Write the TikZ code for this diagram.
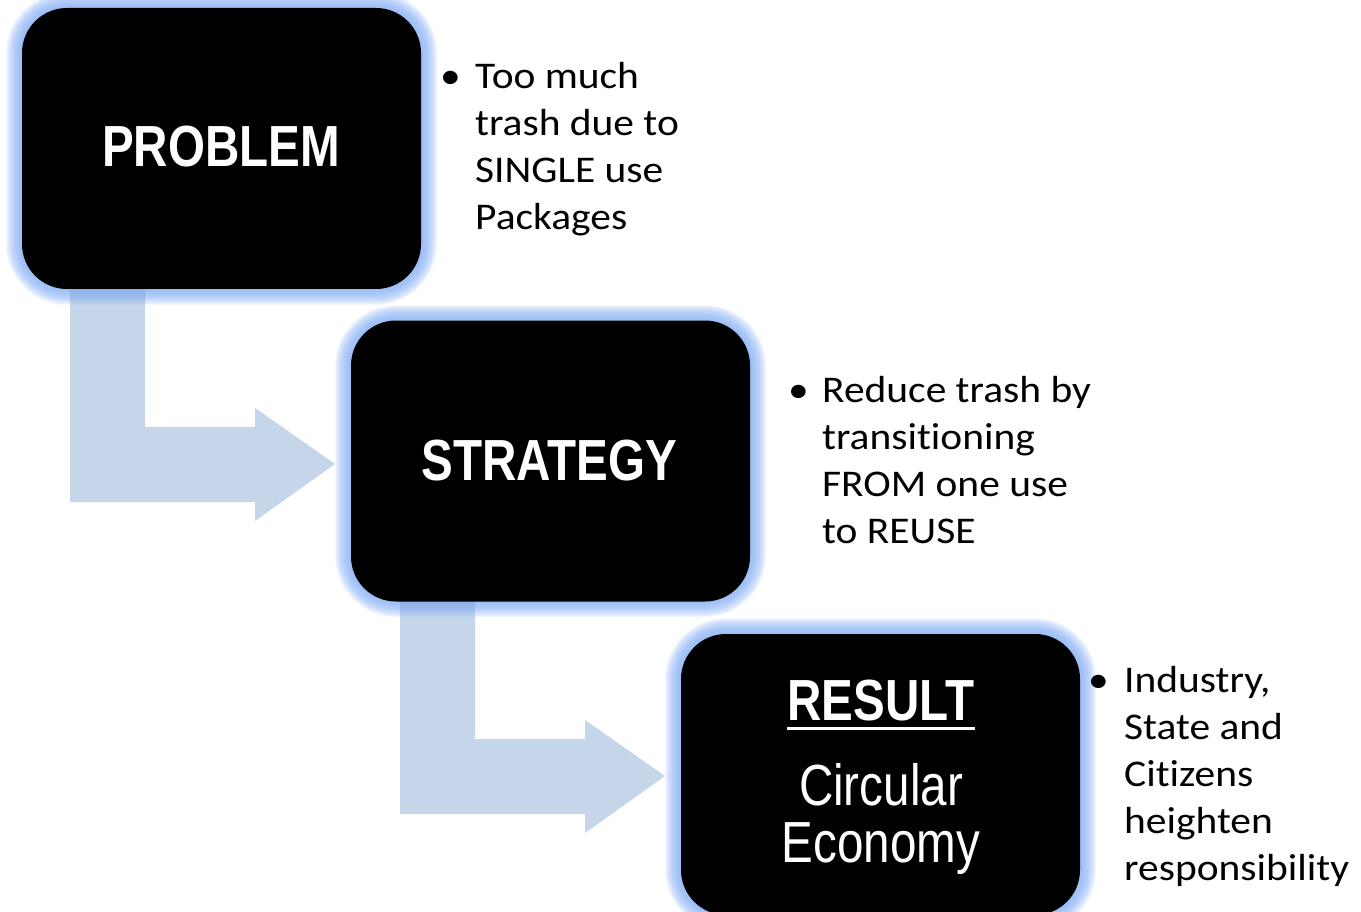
\documentclass[tikz,border=0pt]{standalone}
\usepackage{fontspec}
\setmainfont[Ligatures=NoCommon, FakeStretch=1.1]{Carlito}
\newfontfamily\narrowfont[FakeStretch=0.82]{Liberation Sans}
\definecolor{arrowblue}{RGB}{197,213,234}
\definecolor{glowblue}{RGB}{136,176,245}
\newcommand\myglow[4]{%
  \foreach \w in {2,4,...,32}{%
    \draw[glowblue, line width=\w pt, opacity=0.1, rounded corners=45pt] (#1,#2) rectangle (#3,#4);
  }%
}
\tikzset{
  blackbox/.style={fill=black, rounded corners=45pt, minimum width=399pt, minimum height=281pt, inner sep=0pt},
  boxlabel/.style={text=white, anchor=base, inner sep=0pt, font=\narrowfont\bfseries\fontsize{58}{60}\selectfont},
  boxplain/.style={text=white, anchor=base, inner sep=0pt, font=\narrowfont\fontsize{58}{60}\selectfont},
  bline/.style={anchor=base west, inner sep=0pt, font=\fontsize{37.7}{47}\selectfont},
  bdot/.style={anchor=base west, inner sep=0pt, font=\fontsize{37.7}{47}\selectfont},
  blockarrow/.style={fill=arrowblue, draw=none}
}
\begin{document}
\begin{tikzpicture}[x=1pt,y=-1pt]
\useasboundingbox (0,0) rectangle (1361,912);
% block arrows
\fill[blockarrow] (70,280) -- (145,280) -- (145,427) -- (255,427) -- (255,408) -- (335,464) -- (255,521) -- (255,502) -- (70,502) -- cycle;
\fill[blockarrow] (400,592) -- (475,592) -- (475,739) -- (585,739) -- (585,720) -- (665,776) -- (585,833) -- (585,814) -- (400,814) -- cycle;
% glows
\myglow{22}{8}{421}{289}
\myglow{351}{321}{750}{601}
\myglow{681}{634}{1080}{915}
% boxes
\node[blackbox] (problem) at (221.5,148.5) {};
\node[blackbox] (strategy) at (550.5,461) {};
\node[blackbox] (result) at (880.5,774.5) {};
% box labels
\node[boxlabel] (problemtxt) at (221,167) {PROBLEM};
\node[boxlabel] (strategytxt) at (549,480) {STRATEGY};
\node[boxlabel] (resulttxt) at (881,720) {RESULT};
\draw[white, line width=3pt] ([yshift=-8pt]resulttxt.base west) -- ([yshift=-8pt]resulttxt.base east);
\node[boxplain] (circ) at (881,805) {Circular};
\node[boxplain] (econ) at (881,862) {Economy};
% bullets 1
\node[bdot] (d1) at (440,89) {•};
\node[bline] (a1) at (475,89) {Too much};
\node[bline] (a2) at (475,136) {trash due to};
\node[bline] (a3) at (475,183) {SINGLE use};
\node[bline] (a4) at (475,230) {Packages};
% bullets 2
\node[bdot] (d2) at (788,402) {•};
\node[bline] (b1) at (822,402) {Reduce trash by};
\node[bline] (b2) at (822,449) {transitioning};
\node[bline] (b3) at (822,496) {FROM one use};
\node[bline] (b4) at (822,543) {to REUSE};
% bullets 3
\node[bdot] (d3) at (1088,692) {•};
\node[bline] (c1) at (1124,692) {Industry,};
\node[bline] (c2) at (1124,739) {State and};
\node[bline] (c3) at (1124,786) {Citizens};
\node[bline] (c4) at (1124,833) {heighten};
\node[bline] (c5) at (1124,880) {responsibility};
\end{tikzpicture}
\end{document}
